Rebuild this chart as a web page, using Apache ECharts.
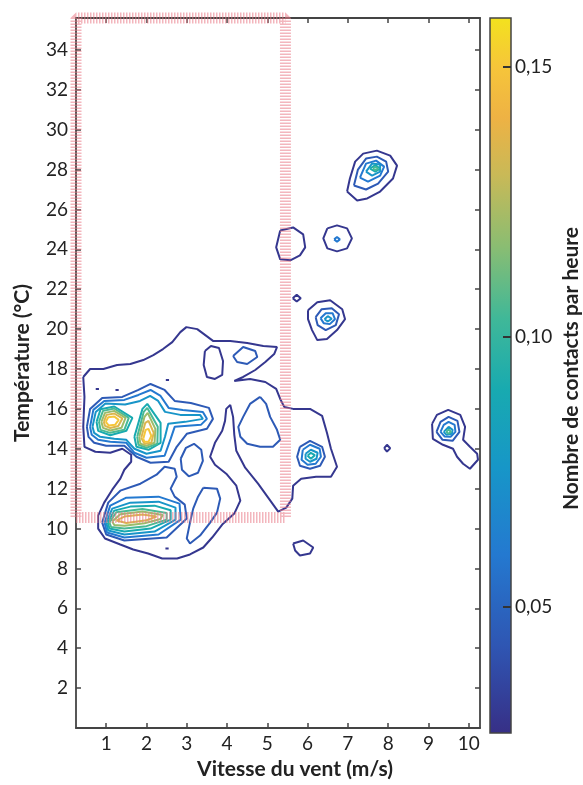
<!DOCTYPE html>
<html>
<head>
<meta charset="utf-8">
<script src="https://cdn.jsdelivr.net/npm/echarts@6/dist/echarts.min.js"></script>
<style>
  html, body { margin: 0; background: #fff; }
  #chart { width: 583px; height: 785px; }
</style>
</head>
<body>
<div id="chart"></div>
<script>
// axes
const xTicks = [1, 2, 3, 4, 5, 6, 7, 8, 9, 10];
const yTicks = [2, 4, 6, 8, 10, 12, 14, 16, 18, 20, 22, 24, 26, 28, 30, 32, 34];
const cbTicks = [0.05, 0.10, 0.15];
const cbMin = 0.0267, cbMax = 0.159;

// contour levels (contacts / hour)
const L = [0.03, 0.045, 0.06, 0.075, 0.09, 0.105, 0.12, 0.135, 0.15];

// red frame drawn on the figure
const highlightBox = [[0.25, 10.55], [5.45, 10.55], [5.45, 35.6], [0.25, 35.6]];

// main blob, outer contour
const mainL1 = [[0.43,17.6],[0.6,18.0],[0.93,18.0],[1.27,18.2],[1.6,18.25],[1.92,18.45],[2.17,18.7],[2.41,19.0],[2.64,19.35],[2.84,19.85],[2.99,20.1],[3.26,20.0],[3.46,19.7],[3.66,19.4],[4.08,19.4],[4.5,19.3],[4.9,19.15],[5.24,19.1],[5.17,18.75],[4.95,18.35],[4.7,17.95],[4.4,17.6],[4.18,17.4],[4.57,17.5],[4.95,17.35],[5.22,17.0],[5.32,16.5],[5.42,16.1],[5.64,16.0],[6.06,16.0],[6.36,15.65],[6.48,14.8],[6.58,14.0],[6.73,13.1],[6.58,12.6],[6.21,12.6],[5.84,12.5],[5.64,12.15],[5.62,11.5],[5.47,11.05],[5.27,10.85],[5.02,11.55],[4.77,12.25],[4.45,13.05],[4.23,13.9],[4.18,14.7],[4.15,15.6],[4.08,16.2],[3.98,16.0],[3.95,15.4],[3.88,14.9],[3.7,14.3],[3.58,13.6],[3.7,13.2],[3.98,12.75],[4.23,12.15],[4.33,11.4],[4.18,10.75],[3.88,10.2],[3.63,9.55],[3.41,9.05],[3.08,8.7],[2.76,8.5],[2.39,8.5],[2.04,8.75],[1.67,8.95],[1.35,9.2],[0.97,9.5],[0.8,10.0],[0.8,10.65],[0.95,11.3],[1.15,11.95],[1.35,12.5],[1.45,12.95],[1.62,13.35],[1.62,13.7],[1.4,14.0],[1.1,13.8],[0.73,13.85],[0.46,14.1],[0.43,15.1],[0.46,16.6]];
const holeL1 = [[3.45,18.9],[3.6,19.15],[3.8,19.05],[3.9,18.4],[3.88,17.7],[3.7,17.5],[3.5,17.6],[3.42,18.2]];
const dotA = [[0.74,17.0],[0.78,17.09],[0.82,17.0],[0.78,16.91]];
const dotB = [[1.23,16.95],[1.27,17.05],[1.31,16.95],[1.27,16.85]];
const dotC = [[2.48,17.45],[2.52,17.54],[2.56,17.45],[2.52,17.36]];
const dotD = [[2.47,9.0],[2.51,9.09],[2.55,9.0],[2.51,8.91]];

// upper-left cluster (two peaks)
const upperL2 = [[0.52,15.1],[0.6,16.0],[0.9,16.55],[1.4,16.6],[1.8,16.95],[2.1,17.25],[2.45,16.95],[2.7,16.4],[3.1,16.3],[3.55,16.05],[3.65,15.5],[3.5,15.0],[3.0,14.75],[2.75,14.1],[2.55,13.35],[2.1,13.3],[1.75,13.6],[1.45,14.15],[1.0,14.15],[0.7,14.3],[0.56,14.6]];
const upperL3 = [[0.6,15.1],[0.68,15.95],[0.95,16.4],[1.45,16.45],[1.8,16.7],[2.1,16.95],[2.35,16.65],[2.55,16.05],[2.9,15.95],[3.4,15.85],[3.5,15.5],[3.35,15.2],[2.7,15.1],[2.6,14.5],[2.45,13.65],[2.0,13.55],[1.7,13.8],[1.5,14.3],[1.1,14.35],[0.8,14.45],[0.64,14.7]];
const upperL4 = [[0.66,15.1],[0.74,15.85],[0.98,16.27],[1.47,16.22],[1.84,16.4],[2.09,16.65],[2.29,16.4],[2.46,15.85],[2.84,15.7],[3.33,15.7],[3.4,15.5],[2.96,15.35],[2.54,15.25],[2.46,14.6],[2.35,13.9],[2.0,13.75],[1.7,14.0],[1.5,14.45],[1.2,14.5],[0.85,14.6],[0.7,14.8]];
const peakA5 = [[0.76,15.35],[0.86,15.98],[1.2,16.12],[1.65,15.55],[1.5,14.9],[1.1,14.68],[0.8,14.9]];
const peakA6 = [[0.82,15.35],[0.92,15.9],[1.2,16.02],[1.56,15.55],[1.45,14.95],[1.1,14.8],[0.86,14.95]];
const peakA7 = [[0.88,15.35],[0.97,15.8],[1.2,15.9],[1.48,15.55],[1.38,15.05],[1.1,14.92],[0.92,15.05]];
const peakA8 = [[0.94,15.35],[1.01,15.7],[1.2,15.77],[1.4,15.52],[1.3,15.14],[1.1,15.04],[0.97,15.15]];
const peakA9 = [[0.99,15.35],[1.05,15.58],[1.2,15.62],[1.31,15.45],[1.22,15.2],[1.06,15.17]];
const peakB5 = [[1.7,14.6],[1.9,16.0],[2.02,16.25],[2.35,15.3],[2.35,14.3],[2.05,13.95],[1.75,14.1]];
const peakB6 = [[1.77,14.6],[1.93,15.85],[2.02,16.05],[2.28,15.1],[2.27,14.25],[2.0,14.05],[1.8,14.2]];
const peakB7 = [[1.82,14.6],[1.95,15.6],[2.03,15.8],[2.22,15.0],[2.2,14.3],[2.0,14.15],[1.85,14.25]];
const peakB8 = [[1.87,14.55],[1.97,15.3],[2.05,15.4],[2.18,14.8],[2.12,14.3],[1.95,14.25]];
const peakB9 = [[1.92,14.5],[1.98,14.95],[2.05,15.0],[2.12,14.65],[2.05,14.35],[1.95,14.35]];

// lower blob around 10 °C
const peakC2 = [[0.9,10.3],[1.05,11.3],[1.35,11.9],[1.85,12.25],[2.25,12.7],[2.45,13.1],[2.7,13.0],[2.75,12.6],[2.6,12.0],[2.7,11.6],[2.95,11.2],[3.0,10.5],[2.5,9.55],[1.45,9.4],[1.0,9.7]];
const peakC3 = [[0.96,10.3],[1.1,11.15],[1.5,11.55],[2.3,11.6],[2.82,11.25],[2.85,10.45],[2.3,9.7],[1.45,9.55],[1.02,9.8]];
const peakC4 = [[1.0,10.3],[1.15,11.0],[1.6,11.3],[2.3,11.35],[2.72,11.05],[2.72,10.45],[2.2,9.85],[1.45,9.7],[1.05,9.9]];
const peakC5 = [[1.04,10.3],[1.2,10.9],[1.6,11.1],[2.2,11.15],[2.6,10.92],[2.6,10.45],[2.1,10.0],[1.45,9.85],[1.08,10.0]];
const peakC6 = [[1.08,10.3],[1.25,10.82],[1.9,10.98],[2.5,10.78],[2.5,10.45],[2.0,10.12],[1.45,10.0],[1.12,10.08]];
const peakC7 = [[1.15,10.35],[1.35,10.72],[1.9,10.85],[2.4,10.68],[2.35,10.48],[1.95,10.27],[1.45,10.14],[1.2,10.18]];
const peakC8 = [[1.25,10.4],[1.45,10.6],[1.9,10.7],[2.25,10.6],[2.0,10.42],[1.5,10.28]];

// other loops inside the main blob
const rightLobeL2 = [[4.82,16.6],[4.97,16.25],[5.07,15.6],[5.24,14.95],[5.32,14.45],[5.14,14.1],[4.82,14.1],[4.5,14.25],[4.33,14.6],[4.28,15.1],[4.4,15.6],[4.57,16.25]];
const topDiamondL2 = [[4.15,18.65],[4.4,19.1],[4.7,18.9],[4.75,18.6],[4.5,18.25],[4.25,18.35]];
const ovalL2 = [[2.85,13.5],[2.98,14.05],[3.18,14.25],[3.36,13.95],[3.4,13.4],[3.28,12.8],[3.05,12.62],[2.88,12.95]];
const lowerMidL2 = [[3.41,12.05],[3.75,12.0],[3.83,11.5],[3.75,10.8],[3.58,10.3],[3.33,9.65],[3.08,9.25],[3.0,9.5],[3.08,10.3],[3.16,11.0],[3.28,11.6]];
const blob6x13L2 = [[5.81,14.1],[6.06,14.4],[6.36,14.1],[6.43,13.6],[6.31,13.15],[6.06,13.0],[5.81,13.15],[5.74,13.6]];
const blob6x13L3 = [[5.88,13.95],[6.06,14.2],[6.3,14.0],[6.33,13.6],[6.2,13.25],[6.0,13.2],[5.85,13.45]];
const blob6x13L4 = [[5.95,13.75],[6.08,13.95],[6.25,13.8],[6.22,13.5],[6.06,13.35],[5.95,13.5]];
const blob6x13L5 = [[6.0,13.65],[6.08,13.8],[6.18,13.68],[6.08,13.5]];

// isolated blobs on the right
const blob28L1 = [[6.98,26.9],[7.05,27.55],[7.18,28.4],[7.38,28.8],[7.72,28.95],[8.05,28.7],[8.22,28.2],[8.12,27.55],[7.8,26.9],[7.48,26.55],[7.23,26.45]];
const blob28L2 = [[7.15,27.2],[7.25,28.0],[7.45,28.55],[7.72,28.65],[7.95,28.4],[8.0,27.9],[7.75,27.3],[7.45,27.0]];
const blob28L3 = [[7.3,27.6],[7.45,28.3],[7.7,28.45],[7.9,28.15],[7.8,27.7],[7.5,27.4]];
const blob28L4 = [[7.45,27.9],[7.6,28.3],[7.8,28.25],[7.8,27.9],[7.6,27.7]];
const blob28L5 = [[7.55,28.05],[7.68,28.22],[7.8,28.05],[7.68,27.9]];
const blob28L6 = [[7.62,28.05],[7.68,28.13],[7.75,28.05],[7.68,27.97]];
const blob24aL1 = [[5.32,24.95],[5.64,25.1],[5.89,24.75],[5.94,24.1],[5.81,23.7],[5.57,23.45],[5.32,23.5],[5.22,24.1]];
const blob24bL1 = [[6.49,25.05],[6.73,25.2],[6.98,25.05],[7.1,24.55],[6.98,24.05],[6.73,23.9],[6.49,24.05],[6.39,24.55]];
const blob24bL3 = [[6.66,24.5],[6.73,24.62],[6.8,24.5],[6.73,24.38]];
const dot21L1 = [[5.63,21.55],[5.73,21.72],[5.83,21.55],[5.73,21.38]];
const blob20L1 = [[6.01,20.95],[6.24,21.35],[6.56,21.45],[6.86,21.0],[6.93,20.5],[6.73,19.95],[6.48,19.5],[6.24,19.45],[6.11,19.95],[6.01,20.5]];
const blob20L2 = [[6.2,20.6],[6.35,21.0],[6.6,21.05],[6.78,20.75],[6.7,20.2],[6.45,19.95],[6.25,20.2]];
const blob20L3 = [[6.32,20.55],[6.45,20.8],[6.62,20.8],[6.68,20.5],[6.55,20.25],[6.4,20.3]];
const blob20L4 = [[6.42,20.5],[6.5,20.65],[6.6,20.52],[6.5,20.38]];
const dot14L1 = [[7.9,14.03],[7.97,14.2],[8.05,14.03],[7.97,13.86]];
const blob15L1 = [[9.09,15.25],[9.21,15.7],[9.49,15.95],[9.79,15.7],[9.91,15.1],[9.86,14.45],[10.03,14.1],[10.21,13.75],[10.23,13.45],[10.03,13.0],[9.86,13.25],[9.71,13.6],[9.61,14.0],[9.36,14.2],[9.11,14.5]];
const blob15L2 = [[9.2,14.85],[9.3,15.35],[9.5,15.6],[9.72,15.4],[9.77,14.85],[9.6,14.4],[9.35,14.45]];
const blob15L3 = [[9.3,14.85],[9.38,15.2],[9.5,15.35],[9.65,15.2],[9.67,14.85],[9.55,14.6],[9.4,14.62]];
const blob15L4 = [[9.38,14.85],[9.5,15.1],[9.6,14.95],[9.58,14.75],[9.45,14.7]];
const blob15L6 = [[9.44,14.85],[9.5,14.97],[9.56,14.85],[9.5,14.75]];
const blob9L1 = [[5.64,9.25],[5.89,9.4],[6.14,9.05],[6.06,8.75],[5.81,8.65],[5.69,8.9]];

const contours = [
  [L[0], mainL1], [L[0], holeL1], [L[0], dotA], [L[0], dotB], [L[0], dotC], [L[0], dotD],
  [L[1], upperL2], [L[2], upperL3], [L[3], upperL4],
  [L[4], peakA5], [L[5], peakA6], [L[6], peakA7], [L[7], peakA8], [L[8], peakA9],
  [L[4], peakB5], [L[5], peakB6], [L[6], peakB7], [L[7], peakB8], [L[8], peakB9],
  [L[1], peakC2], [L[2], peakC3], [L[3], peakC4], [L[4], peakC5], [L[5], peakC6], [L[6], peakC7], [L[7], peakC8],
  [L[1], rightLobeL2], [L[1], topDiamondL2], [L[1], ovalL2], [L[1], lowerMidL2],
  [L[1], blob6x13L2], [L[2], blob6x13L3], [L[3], blob6x13L4], [L[4], blob6x13L5],
  [L[0], blob28L1], [L[1], blob28L2], [L[2], blob28L3], [L[3], blob28L4], [L[4], blob28L5], [L[5], blob28L6],
  [L[0], blob24aL1], [L[0], blob24bL1], [L[2], blob24bL3], [L[0], dot21L1],
  [L[0], blob20L1], [L[1], blob20L2], [L[2], blob20L3], [L[3], blob20L4],
  [L[0], dot14L1],
  [L[0], blob15L1], [L[1], blob15L2], [L[2], blob15L3], [L[3], blob15L4], [L[5], blob15L6],
  [L[0], blob9L1]
];

// parula-like colour map
const cmap = [
  [0.00, '#372f86'], [0.12, '#2f55b2'], [0.25, '#2479d0'], [0.37, '#1796c8'],
  [0.48, '#18aab0'], [0.58, '#40b898'], [0.68, '#8abd72'], [0.78, '#c9b957'],
  [0.86, '#eeb244'], [0.93, '#f6c53a'], [1.00, '#f3e21e']
];
function hexRgb(h) { return [1, 3, 5].map(i => parseInt(h.slice(i, i + 2), 16)); }
function levelColor(v) {
  const t = Math.min(1, Math.max(0, (v - cbMin) / (cbMax - cbMin)));
  for (let i = 0; i < cmap.length - 1; i++) {
    const [p0, c0] = cmap[i], [p1, c1] = cmap[i + 1];
    if (t <= p1) {
      const f = (t - p0) / (p1 - p0), a = hexRgb(c0), b = hexRgb(c1);
      return 'rgb(' + a.map((x, k) => Math.round(x + (b[k] - x) * f)).join(',') + ')';
    }
  }
  return cmap[cmap.length - 1][1];
}
const closeLoop = p => p.concat([p[0]]);

const font = 'Lato, "Open Sans", sans-serif';
const axisCol = '#444';

const series = contours.map(([lv, pts]) => ({
  type: 'line',
  xAxisIndex: 0, yAxisIndex: 0,
  data: closeLoop(pts),
  symbol: 'none',
  lineStyle: { color: levelColor(lv), width: 2 },
  silent: true, z: 3
}));

series.push({
  type: 'line',
  xAxisIndex: 0, yAxisIndex: 0,
  data: closeLoop(highlightBox),
  symbol: 'none', clip: false,
  lineStyle: { color: 'rgba(234,122,134,0.55)', width: 11, type: [1.5, 1.5] },
  silent: true, z: 5
});

series.push({
  type: 'custom',
  xAxisIndex: 2, yAxisIndex: 2,
  data: [[0, cbMin, cbMax]],
  silent: true, z: 1,
  renderItem: (params, api) => {
    const p0 = api.coord([0, cbMax]);
    const p1 = api.coord([1, cbMin]);
    return {
      type: 'rect',
      shape: { x: p0[0], y: p0[1], width: p1[0] - p0[0], height: p1[1] - p0[1] },
      style: {
        fill: new echarts.graphic.LinearGradient(0, 0, 0, 1,
          cmap.slice().reverse().map(([p, c]) => ({ offset: 1 - p, color: c }))),
        stroke: axisCol, lineWidth: 1.5
      }
    };
  }
});

const boxAxis = {
  axisLine: { show: true, onZero: false, lineStyle: { color: axisCol, width: 1.8 } },
  splitLine: { show: false }
};
const tickStyle = { color: axisCol, width: 1.5 };
const labelStyle = { color: '#222', fontSize: 19, fontFamily: font };
const titleStyle = { fontWeight: 'bold', fontSize: 21, color: '#222', fontFamily: font };

const chart = echarts.init(document.getElementById('chart'));
chart.setOption({
  animation: false,
  backgroundColor: '#fff',
  grid: [
    { left: 76, top: 18, width: 404, height: 715 },
    { left: 490, top: 18, width: 26, height: 715 }
  ],
  xAxis: [
    Object.assign({
      gridIndex: 0, type: 'value', min: 0.25, max: 10.28, position: 'bottom',
      axisTick: { inside: true, length: 5, customValues: xTicks, lineStyle: tickStyle },
      axisLabel: Object.assign({ customValues: xTicks, margin: 6 }, labelStyle),
      name: 'Vitesse du vent (m/s)', nameLocation: 'middle', nameGap: 31,
      nameTextStyle: Object.assign({ padding: [0, 0, 0, 34] }, titleStyle)
    }, boxAxis),
    Object.assign({
      gridIndex: 0, type: 'value', min: 0.25, max: 10.28, position: 'top',
      axisTick: { inside: true, length: 5, customValues: xTicks, lineStyle: tickStyle },
      axisLabel: { show: false }
    }, boxAxis),
    { gridIndex: 1, type: 'value', min: 0, max: 1, show: false }
  ],
  yAxis: [
    Object.assign({
      gridIndex: 0, type: 'value', min: 0, max: 35.6, position: 'left',
      axisTick: { inside: true, length: 5, customValues: yTicks, lineStyle: tickStyle },
      axisLabel: Object.assign({ customValues: yTicks, margin: 8 }, labelStyle),
      name: 'Température (°C)', nameLocation: 'middle', nameGap: 43, nameRotate: 90,
      nameTextStyle: Object.assign({ padding: [0, 0, 0, 20] }, titleStyle)
    }, boxAxis),
    Object.assign({
      gridIndex: 0, type: 'value', min: 0, max: 35.6, position: 'right',
      axisTick: { inside: true, length: 5, customValues: yTicks, lineStyle: tickStyle },
      axisLabel: { show: false }
    }, boxAxis),
    {
      gridIndex: 1, type: 'value', min: cbMin, max: cbMax, position: 'right', z: 10,
      axisLine: { show: false, onZero: false },
      splitLine: { show: false },
      axisTick: { inside: true, length: 8, customValues: cbTicks, lineStyle: { color: '#333', width: 2 } },
      axisLabel: Object.assign({
        customValues: cbTicks, margin: 4,
        formatter: v => v.toFixed(2).replace('.', ',')
      }, labelStyle),
      name: 'Nombre de contacts par heure', nameLocation: 'middle', nameGap: 50, nameRotate: 90,
      nameTextStyle: Object.assign({ padding: [0, 0, 0, 14] }, titleStyle)
    }
  ],
  series: series
});
</script>
</body>
</html>
